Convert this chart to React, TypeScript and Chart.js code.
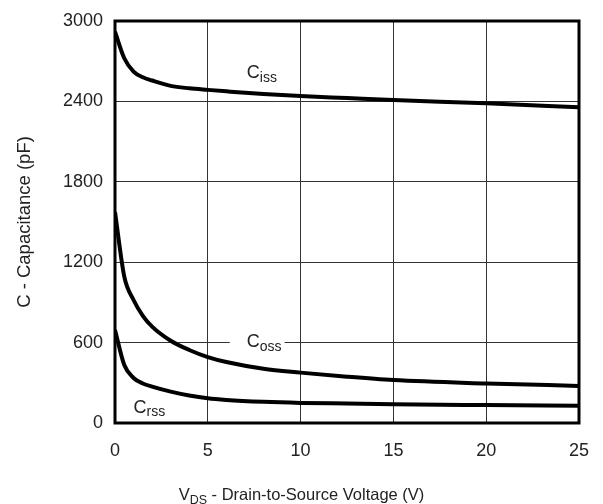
import React, { useEffect, useRef } from 'react';
import { Chart, registerables } from 'chart.js';

Chart.register(...registerables);

// Drain-to-source voltage (V)
const vds = [0, 0.5, 1, 1.5, 2, 3, 4, 5, 6, 8, 10, 12.5, 15, 20, 25];
// Capacitances (pF)
const ciss = [2920, 2722, 2622, 2580, 2556, 2516, 2498, 2486, 2475, 2455, 2440, 2425, 2410, 2386, 2356];
const coss = [1575, 1092, 918, 800, 719, 614, 545, 492, 455, 405, 376, 345, 320, 295, 277];
const crss = [694, 433, 336, 295, 271, 234, 205, 184, 172, 158, 150, 145, 140, 134, 129];

const xTicks = [0, 5, 10, 15, 20, 25];
const yTicks = [0, 600, 1200, 1800, 2400, 3000];

const curveLabelMain = ['C', 'C', 'C'];
const curveLabelSub = ['iss', 'oss', 'rss'];
const curveLabelX = [7.1, 7.1, 1.0];
const curveLabelY = [2574, 567, 75];
const curveLabelBox = [false, true, false];

const xTitleMain = 'V';
const xTitleSub = 'DS';
const xTitleRest = ' - Drain-to-Source Voltage (V)';
const yTitle = 'C - Capacitance (pF)';

const FONT = '"Liberation Sans", Arial, Helvetica, sans-serif';
const TEXT = '#222';
const TICK = 18;
const LBL_MAIN = 18;
const LBL_SUB = 14;
const XT_MAIN = 16.5;
const XT_SUB = 12.5;
const YT = 18.5;

const overlay = {
  id: 'overlay',
  beforeDatasetsDraw(chart: any) {
    const { ctx, scales } = chart;
    const x = scales.x, y = scales.y;
    ctx.save();
    ctx.textAlign = 'left';
    ctx.textBaseline = 'alphabetic';
    for (let i = 0; i < curveLabelMain.length; i++) {
      const px = x.getPixelForValue(curveLabelX[i]);
      const py = y.getPixelForValue(curveLabelY[i]);
      ctx.font = `${LBL_MAIN}px ${FONT}`;
      const w1 = ctx.measureText(curveLabelMain[i]).width;
      ctx.font = `${LBL_SUB}px ${FONT}`;
      const w2 = ctx.measureText(curveLabelSub[i]).width;
      if (curveLabelBox[i]) {
        ctx.fillStyle = '#fff';
        ctx.fillRect(px - 17, py - 18, w1 + w2 + 20, 26);
      }
      ctx.fillStyle = TEXT;
      ctx.font = `${LBL_MAIN}px ${FONT}`;
      ctx.fillText(curveLabelMain[i], px, py);
      ctx.font = `${LBL_SUB}px ${FONT}`;
      ctx.fillText(curveLabelSub[i], px + w1, py + 3.5);
    }
    ctx.restore();
  },
  afterDatasetsDraw(chart: any) {
    const { ctx, chartArea } = chart;
    ctx.save();
    ctx.strokeStyle = '#000';
    ctx.lineWidth = 3;
    ctx.strokeRect(chartArea.left, chartArea.top, chartArea.right - chartArea.left, chartArea.bottom - chartArea.top);
    ctx.restore();
  },
  afterDraw(chart: any) {
    const { ctx, chartArea, width } = chart;
    ctx.save();
    ctx.fillStyle = TEXT;
    ctx.textBaseline = 'alphabetic';
    ctx.textAlign = 'left';
    // x title
    ctx.font = `${XT_MAIN}px ${FONT}`;
    const wV = ctx.measureText(xTitleMain).width;
    const wR = ctx.measureText(xTitleRest).width;
    ctx.font = `${XT_SUB}px ${FONT}`;
    const wS = ctx.measureText(xTitleSub).width;
    const total = wV + wS + wR;
    const sx = width / 2 - total / 2;
    const by = 500;
    ctx.font = `${XT_MAIN}px ${FONT}`;
    ctx.fillText(xTitleMain, sx, by);
    ctx.font = `${XT_SUB}px ${FONT}`;
    ctx.fillText(xTitleSub, sx + wV, by + 4);
    ctx.font = `${XT_MAIN}px ${FONT}`;
    ctx.fillText(xTitleRest, sx + wV + wS, by);
    // y title
    ctx.translate(25, (chartArea.top + chartArea.bottom) / 2);
    ctx.rotate(-Math.PI / 2);
    ctx.textAlign = 'center';
    ctx.textBaseline = 'middle';
    ctx.font = `${YT}px ${FONT}`;
    ctx.fillText(yTitle, 0, 0);
    ctx.restore();
  },
};

export default function App() {
  const ref = useRef<HTMLCanvasElement | null>(null);
  useEffect(() => {
    if (!ref.current) return;
    const mk = (data: number[]) => ({
      data: vds.map((v, i) => ({ x: v, y: data[i] })),
      borderColor: '#000',
      borderWidth: 4,
      pointRadius: 0,
      fill: false,
      cubicInterpolationMode: 'monotone' as const,
    });
    const chart = new Chart(ref.current, {
      type: 'line',
      data: { datasets: [mk(ciss), mk(coss), mk(crss)] },
      options: {
        animation: false,
        responsive: false,
        devicePixelRatio: 1,
        layout: { padding: { top: 21, right: 24, left: 0, bottom: 0 } },
        plugins: { legend: { display: false }, tooltip: { enabled: false } },
        scales: {
          x: {
            type: 'linear',
            min: xTicks[0],
            max: xTicks[xTicks.length - 1],
            afterFit: (s: any) => { s.height = 81; s.paddingLeft = 0; s.paddingRight = 0; },
            afterBuildTicks: (s: any) => { s.ticks = xTicks.map((v) => ({ value: v })); },
            ticks: { color: TEXT, font: { size: TICK, family: FONT }, padding: 17, maxRotation: 0, callback: (v: any) => String(v) },
            grid: { color: '#333', lineWidth: 1, drawTicks: false },
            border: { display: false },
          },
          y: {
            type: 'linear',
            min: yTicks[0],
            max: yTicks[yTicks.length - 1],
            afterFit: (s: any) => { s.width = 115; s.paddingTop = 0; s.paddingBottom = 0; },
            afterBuildTicks: (s: any) => { s.ticks = yTicks.map((v) => ({ value: v })); },
            ticks: { color: TEXT, font: { size: TICK, family: FONT }, padding: 12, callback: (v: any) => String(v) },
            grid: { color: '#333', lineWidth: 1, drawTicks: false },
            border: { display: false },
          },
        },
      },
      plugins: [overlay],
    });
    return () => chart.destroy();
  }, []);
  return (
    <div style={{ position: 'fixed', left: 0, top: 0, width: 603, height: 504, background: '#fff' }}>
      <canvas ref={ref} width={603} height={504} style={{ display: 'block' }} />
    </div>
  );
}
